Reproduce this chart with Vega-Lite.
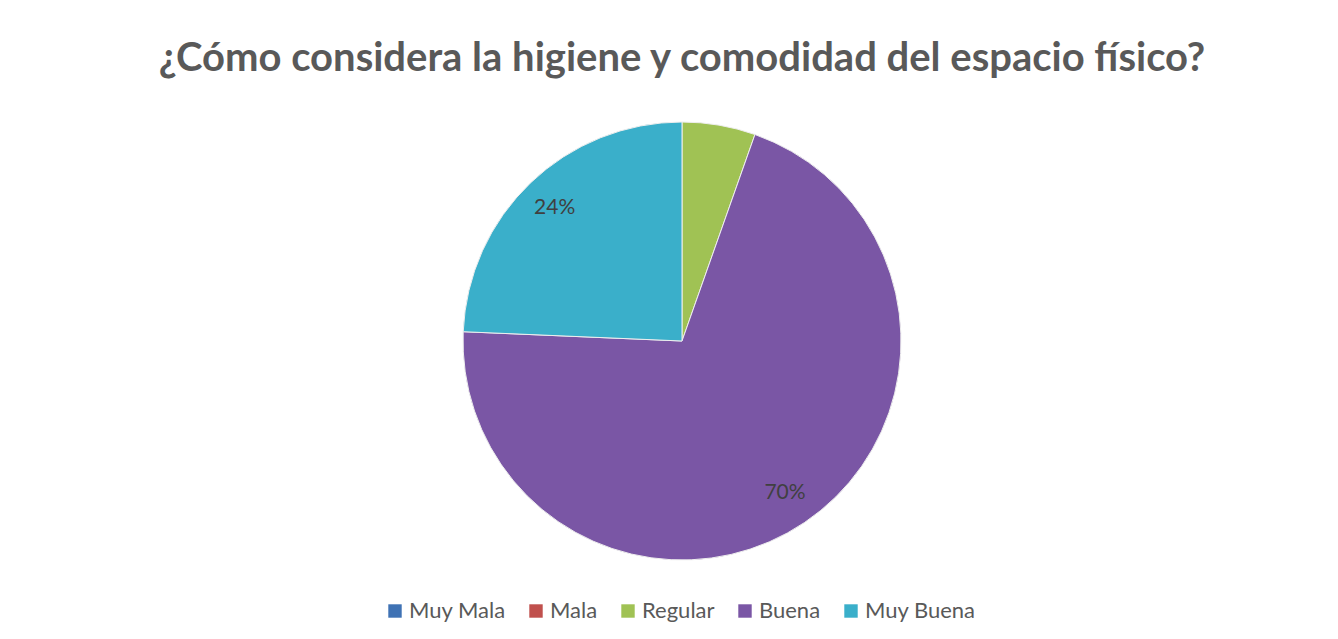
{
  "$schema": "https://vega.github.io/schema/vega-lite/v6.json",
  "width": 1312,
  "height": 440,
  "autosize": {"type": "none"},
  "padding": {"left": 26, "right": 0, "top": 121, "bottom": 78},
  "background": "white",
  "title": {
    "text": "¿Cómo considera la higiene y comodidad del espacio físico?",
    "font": "Lato",
    "fontSize": 40,
    "fontWeight": "bold",
    "color": "#595959",
    "anchor": "middle",
    "baseline": "alphabetic",
    "offset": 9
  },
  "data": {
    "values": [
      {"categoria": "Muy Mala", "valor": 0, "orden": 1, "etiqueta": ""},
      {"categoria": "Mala", "valor": 0, "orden": 2, "etiqueta": ""},
      {"categoria": "Regular", "valor": 2, "orden": 3, "etiqueta": ""},
      {"categoria": "Buena", "valor": 26, "orden": 4, "etiqueta": "70%"},
      {"categoria": "Muy Buena", "valor": 9, "orden": 5, "etiqueta": "24%"}
    ]
  },
  "encoding": {
    "theta": {"field": "valor", "type": "quantitative", "stack": true},
    "order": {"field": "orden", "type": "quantitative"}
  },
  "layer": [
    {
      "mark": {"type": "arc", "outerRadius": 219, "stroke": "#eeeeee", "strokeWidth": 1},
      "encoding": {
        "color": {
          "field": "categoria",
          "type": "nominal",
          "sort": ["Muy Mala", "Mala", "Regular", "Buena", "Muy Buena"],
          "scale": {
            "domain": ["Muy Mala", "Mala", "Regular", "Buena", "Muy Buena"],
            "range": ["#3F72B4", "#C0504D", "#A0C254", "#7A56A5", "#3AAFCA"]
          },
          "legend": {
            "title": null,
            "orient": "none",
            "legendX": 358,
            "legendY": 479,
            "direction": "horizontal",
            "symbolType": "square",
            "symbolSize": 180,
            "symbolStrokeWidth": 0,
            "labelFont": "Lato",
            "labelFontSize": 22,
            "labelColor": "#595959",
            "columnPadding": 19,
            "labelOffset": 3
          }
        }
      }
    },
    {
      "mark": {"type": "text", "radius": 184, "font": "Lato", "fontSize": 21, "color": "#404040"},
      "encoding": {
        "text": {"field": "etiqueta", "type": "nominal"}
      }
    }
  ],
  "config": {"view": {"stroke": null}}
}
